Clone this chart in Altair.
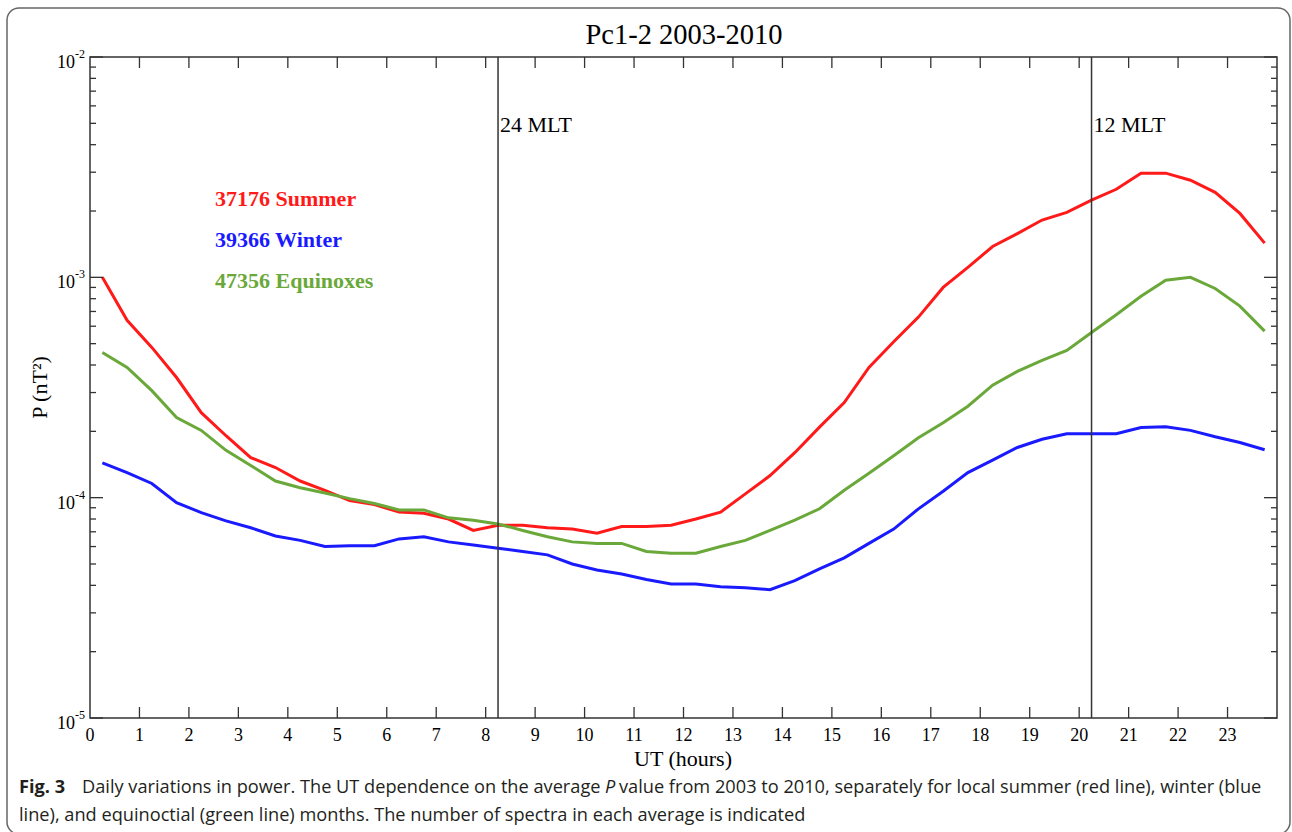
import altair as alt
import pandas as pd

# ---------------- data ----------------
ut_hours = [0.25, 0.75, 1.25, 1.75, 2.25, 2.75, 3.25, 3.75, 4.25, 4.75, 5.25, 5.75,
            6.25, 6.75, 7.25, 7.75, 8.25, 8.75, 9.25, 9.75, 10.25, 10.75, 11.25, 11.75,
            12.25, 12.75, 13.25, 13.75, 14.25, 14.75, 15.25, 15.75, 16.25, 16.75, 17.25, 17.75,
            18.25, 18.75, 19.25, 19.75, 20.25, 20.75, 21.25, 21.75, 22.25, 22.75, 23.25, 23.75]

summer = [1.00e-3, 6.38e-4, 4.81e-4, 3.51e-4, 2.43e-4, 1.91e-4, 1.52e-4, 1.37e-4, 1.19e-4, 1.08e-4, 9.7e-5, 9.3e-5,
          8.6e-5, 8.5e-5, 8.0e-5, 7.1e-5, 7.5e-5, 7.5e-5, 7.3e-5, 7.2e-5, 6.9e-5, 7.4e-5, 7.4e-5, 7.5e-5,
          8.0e-5, 8.6e-5, 1.04e-4, 1.26e-4, 1.60e-4, 2.09e-4, 2.70e-4, 3.9e-4, 5.1e-4, 6.6e-4, 9.0e-4, 1.11e-3,
          1.38e-3, 1.58e-3, 1.82e-3, 1.97e-3, 2.24e-3, 2.51e-3, 2.97e-3, 2.97e-3, 2.76e-3, 2.43e-3, 1.95e-3, 1.43e-3]

winter = [1.44e-4, 1.30e-4, 1.16e-4, 9.5e-5, 8.55e-5, 7.85e-5, 7.3e-5, 6.7e-5, 6.4e-5, 6.0e-5, 6.05e-5, 6.05e-5,
          6.5e-5, 6.65e-5, 6.3e-5, 6.1e-5, 5.9e-5, 5.7e-5, 5.5e-5, 5.0e-5, 4.7e-5, 4.5e-5, 4.25e-5, 4.06e-5,
          4.06e-5, 3.94e-5, 3.9e-5, 3.82e-5, 4.2e-5, 4.75e-5, 5.33e-5, 6.2e-5, 7.2e-5, 8.9e-5, 1.07e-4, 1.30e-4,
          1.48e-4, 1.69e-4, 1.84e-4, 1.95e-4, 1.95e-4, 1.95e-4, 2.08e-4, 2.10e-4, 2.02e-4, 1.89e-4, 1.78e-4, 1.65e-4]

equinox = [4.56e-4, 3.90e-4, 3.06e-4, 2.31e-4, 2.02e-4, 1.64e-4, 1.40e-4, 1.19e-4, 1.11e-4, 1.05e-4, 9.9e-5, 9.4e-5,
           8.8e-5, 8.8e-5, 8.1e-5, 7.9e-5, 7.6e-5, 7.1e-5, 6.65e-5, 6.3e-5, 6.2e-5, 6.2e-5, 5.7e-5, 5.6e-5,
           5.6e-5, 6.0e-5, 6.4e-5, 7.1e-5, 7.9e-5, 8.9e-5, 1.08e-4, 1.29e-4, 1.55e-4, 1.87e-4, 2.19e-4, 2.60e-4,
           3.24e-4, 3.74e-4, 4.20e-4, 4.66e-4, 5.62e-4, 6.76e-4, 8.2e-4, 9.7e-4, 1.0e-3, 8.9e-4, 7.4e-4, 5.7e-4]

series_names = ["Summer", "Winter", "Equinoxes"]
series_colors = ["#ff1a1a", "#1a1aff", "#6aa83a"]
legend_labels = ["37176 Summer", "39366 Winter", "47356 Equinoxes"]

mlt_ut = [8.25, 20.25]
mlt_labels = ["24 MLT", "12 MLT"]

x_tick_values = list(range(1, 24))
x_label_values = list(range(0, 24))
y_decades = [1e-5, 1e-4, 1e-3, 1e-2]
y_decade_exps = ["-5", "-4", "-3", "-2"]
y_minor = [2e-5, 3e-5, 4e-5, 5e-5, 6e-5, 7e-5, 8e-5, 9e-5,
           2e-4, 3e-4, 4e-4, 5e-4, 6e-4, 7e-4, 8e-4, 9e-4,
           2e-3, 3e-3, 4e-3, 5e-3, 6e-3, 7e-3, 8e-3, 9e-3]

title_text = "Pc1-2 2003-2010"
x_title = "UT (hours)"
y_title = "P (nT²)"
caption_fig = "Fig. 3"
caption_a = "Daily variations in power. The UT dependence on the average"
caption_p = "P"
caption_b = "value from 2003 to 2010, separately for local summer (red line), winter (blue"
caption_2 = "line), and equinoctial (green line) months. The number of spectra in each average is indicated"

# ---------------- layout ----------------
W, H = 1187, 661
PAD_L, PAD_T = 90, 57
SERIF = "Liberation Serif"
SANS = "Open Sans"
CAP_SIZE = 18.2

rows = []
for name, vals in zip(series_names, [summer, winter, equinox]):
    for h, v in zip(ut_hours, vals):
        rows.append({"UT": h, "P": v, "season": name})
df = pd.DataFrame(rows)

xs = alt.Scale(domain=[0, 24], nice=False, zero=False)
ys = alt.Scale(type="log", domain=[1e-5, 1e-2], nice=False)


def X(field="UT"):
    return alt.X(f"{field}:Q", scale=xs, axis=None)


def Y(field="P"):
    return alt.Y(f"{field}:Q", scale=ys, axis=None)


lines = alt.Chart(df).mark_line(strokeWidth=3).encode(
    x=X(), y=Y(),
    color=alt.Color("season:N", scale=alt.Scale(domain=series_names, range=series_colors), legend=None))

mlt_df = pd.DataFrame({"UT": mlt_ut, "label": mlt_labels})
vrules = alt.Chart(mlt_df).mark_rule(color="#333333", strokeWidth=1.5).encode(
    x=X(), y=alt.value(0), y2=alt.value(H))
vlabels = alt.Chart(mlt_df).mark_text(align="left", baseline="alphabetic", font=SERIF,
                                      fontSize=22, dx=2, color="black").encode(
    x=X(), y=alt.value(132 - PAD_T), text="label:N")

xt = pd.DataFrame({"UT": x_tick_values})
xt_bot = alt.Chart(xt).mark_rule(color="#333333", strokeWidth=1.3).encode(
    x=X(), y=alt.value(H), y2=alt.value(H - 11))
xt_top = alt.Chart(xt).mark_rule(color="#333333", strokeWidth=1.3).encode(
    x=X(), y=alt.value(0), y2=alt.value(11))
xlab_df = pd.DataFrame({"UT": x_label_values, "lab": [str(v) for v in x_label_values]})
xlabels = alt.Chart(xlab_df).mark_text(align="center", baseline="alphabetic", font=SERIF,
                                       fontSize=18, color="black").encode(
    x=X(), y=alt.value(H + 23), text="lab:N")

ymin = pd.DataFrame({"P": y_minor})
ymaj = pd.DataFrame({"P": y_decades, "exp": y_decade_exps, "base": ["10"] * 4})
ym_l = alt.Chart(ymin).mark_rule(color="#333333", strokeWidth=1.3).encode(
    y=Y(), x=alt.value(0), x2=alt.value(6))
ym_r = alt.Chart(ymin).mark_rule(color="#333333", strokeWidth=1.3).encode(
    y=Y(), x=alt.value(W), x2=alt.value(W - 6))
yM_l = alt.Chart(ymaj).mark_rule(color="#333333", strokeWidth=1.3).encode(
    y=Y(), x=alt.value(0), x2=alt.value(13))
yM_r = alt.Chart(ymaj).mark_rule(color="#333333", strokeWidth=1.3).encode(
    y=Y(), x=alt.value(W), x2=alt.value(W - 13))
ylab_base = alt.Chart(ymaj).mark_text(align="right", baseline="alphabetic", font=SERIF,
                                      fontSize=18, dy=11, color="black").encode(
    y=Y(), x=alt.value(-15), text="base:N")
ylab_exp = alt.Chart(ymaj).mark_text(align="left", baseline="alphabetic", font=SERIF,
                                     fontSize=12, dy=1, color="black").encode(
    y=Y(), x=alt.value(-15), text="exp:N")


def txt(s, x, y, **kw):
    return alt.Chart(pd.DataFrame({"t": [s]})).mark_text(baseline="alphabetic", **kw).encode(
        x=alt.value(x - PAD_L), y=alt.value(y - PAD_T), text="t:N")


title = txt(title_text, 684, 44, align="center", font=SERIF, fontSize=28.5, color="black")
xtitle = txt(x_title, 683, 766, align="center", font=SERIF, fontSize=22, color="black")
ytitle = alt.Chart(pd.DataFrame({"t": [y_title]})).mark_text(
    align="center", baseline="middle", font=SERIF, fontSize=22, angle=270, color="black").encode(
    x=alt.value(40 - PAD_L), y=alt.value(H / 2), text="t:N")

legend_layers = [
    txt(lab, 215, yb, align="left", font=SERIF, fontSize=22, fontWeight="bold", color=col)
    for lab, yb, col in zip(legend_labels, [206, 247, 288], series_colors)
]

cap_col = "#231f20"
cap_fig = txt(caption_fig, 19, 793, align="left", font=SANS, fontSize=CAP_SIZE, fontWeight="bold", color=cap_col)
cap_a = txt(caption_a, 82, 793, align="left", font=SANS, fontSize=CAP_SIZE, color=cap_col)
cap_p = txt(caption_p, 605, 793, align="left", font=SANS, fontSize=CAP_SIZE, fontStyle="italic", color=cap_col)
cap_b = txt(caption_b, 619, 793, align="left", font=SANS, fontSize=CAP_SIZE, color=cap_col)
cap_2 = txt(caption_2, 19, 821, align="left", font=SANS, fontSize=CAP_SIZE, color=cap_col)

frame = alt.Chart(pd.DataFrame({"k": [0]})).mark_rect(
    filled=False, stroke="#666666", strokeWidth=1.5, cornerRadius=12).encode(
    x=alt.value(7 - PAD_L), x2=alt.value(1290 - PAD_L),
    y=alt.value(8 - PAD_T), y2=alt.value(834 - PAD_T))

chart = alt.layer(
    lines, xt_bot, xt_top, xlabels, ym_l, ym_r, yM_l, yM_r, vrules, vlabels,
    ylab_base, ylab_exp, title, xtitle, ytitle, *legend_layers,
    cap_fig, cap_a, cap_p, cap_b, cap_2, frame
).properties(
    width=W, height=H,
    autosize=alt.AutoSizeParams(type="none"),
    padding={"left": PAD_L, "top": PAD_T, "right": 1292 - PAD_L - W, "bottom": 832 - PAD_T - H},
    background="white"
).configure_view(stroke="#333333", strokeWidth=1.5)

chart.save("out.html", embed_options={"renderer": "svg", "actions": False})
